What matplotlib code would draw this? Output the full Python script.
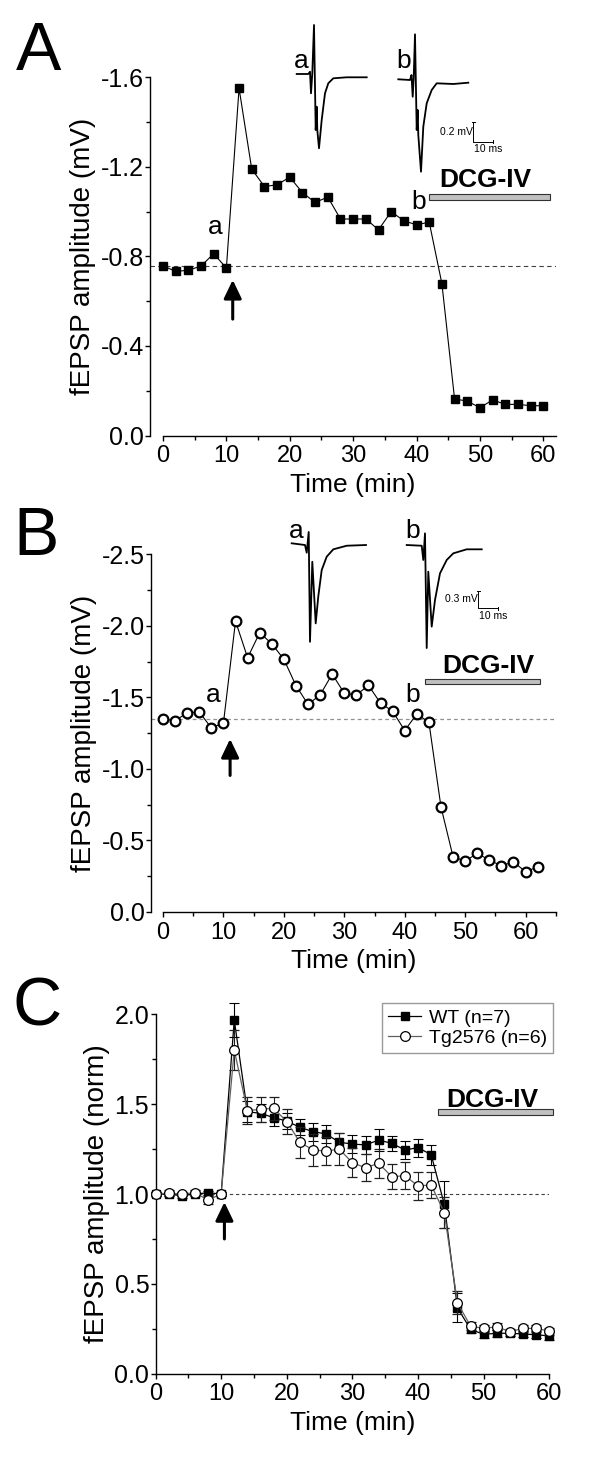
import matplotlib
matplotlib.use("Agg")
import matplotlib.pyplot as plt
from matplotlib.ticker import MultipleLocator, FormatStrFormatter
from matplotlib.patches import Rectangle
from matplotlib.lines import Line2D

plt.rcParams['font.family'] = ['Liberation Sans', 'DejaVu Sans']

# ---------------- data ----------------
tA = list(range(0, 61, 2))
ampA = [-0.758, -0.733, -0.738, -0.757, -0.812, -0.748, -1.551, -1.19, -1.112, -1.12,
        -1.154, -1.085, -1.041, -1.065, -0.967, -0.967, -0.967, -0.919, -1.0, -0.959,
        -0.941, -0.953, -0.678, -0.163, -0.154, -0.124, -0.159, -0.139, -0.139, -0.133, -0.133]
baseA = -0.755

tB = list(range(0, 63, 2))
ampB = [-1.348, -1.339, -1.392, -1.399, -1.287, -1.322, -2.034, -1.778, -1.953, -1.876,
        -1.767, -1.583, -1.452, -1.518, -1.664, -1.529, -1.518, -1.585, -1.46, -1.404,
        -1.269, -1.385, -1.327, -0.735, -0.386, -0.356, -0.41, -0.363, -0.323, -0.351,
        -0.281, -0.316]
baseB = -1.348

tC = list(range(0, 61, 2))
wt = [1.0, 1.0, 0.99, 1.0, 1.007, 1.0, 1.968, 1.458, 1.449, 1.425, 1.406, 1.371, 1.347,
      1.334, 1.288, 1.278, 1.273, 1.30, 1.282, 1.245, 1.258, 1.219, 0.943, 0.367, 0.247,
      0.219, 0.225, 0.225, 0.221, 0.217, 0.21]
wt_err = [0.01, 0.01, 0.01, 0.01, 0.01, 0.01, 0.093, 0.06, 0.05, 0.045, 0.045, 0.045, 0.05,
          0.05, 0.05, 0.05, 0.05, 0.06, 0.04, 0.05, 0.05, 0.055, 0.13, 0.08, 0.02, 0.02,
          0.02, 0.015, 0.015, 0.02, 0.02]
tg = [1.0, 1.005, 1.0, 1.007, 0.967, 1.0, 1.801, 1.464, 1.471, 1.477, 1.403, 1.288, 1.245,
      1.239, 1.25, 1.174, 1.146, 1.171, 1.096, 1.102, 1.045, 1.05, 0.897, 0.395, 0.265,
      0.252, 0.261, 0.234, 0.252, 0.252, 0.237]
tg_err = [0.01, 0.015, 0.01, 0.015, 0.02, 0.01, 0.11, 0.075, 0.07, 0.065, 0.07, 0.085, 0.09,
          0.08, 0.09, 0.08, 0.075, 0.08, 0.07, 0.075, 0.077, 0.075, 0.085, 0.065, 0.02, 0.02,
          0.02, 0.015, 0.02, 0.02, 0.02]
legend_labels = ["WT (n=7)", "Tg2576 (n=6)"]

# example traces (ms, mV)
trA_a_ms = [0, 5.8, 6.65, 7.15, 7.8, 8.65, 9.5, 10, 10.3, 11.15, 12.5, 14.15, 15.8, 18.3, 25, 35]
trA_a_mv = [0, 0, 0.023, -0.193, 0.007, 0.49, -0.56, -0.327, -0.56, -0.743, -0.46, -0.193,
            -0.093, -0.043, -0.033, -0.033]
trA_b_ms = [0, 5.85, 6.6, 7.2, 7.7, 8.35, 9.2, 9.7, 10, 11.35, 12.5, 14.2, 16.7, 19.2, 27.5, 35]
trA_b_mv = [0, -0.007, 0.043, -0.174, 0.013, 0.45, -0.507, -0.307, -0.557, -0.924, -0.474,
            -0.24, -0.107, -0.04, -0.047, -0.034]
trB_a_ms = [0, 6.65, 7.5, 8.5, 9.15, 10.3, 12, 13.3, 15, 17.5, 20.8, 27.5, 37.15]
trB_a_mv = [0, -0.029, -0.16, 0.192, -1.67, -0.313, -1.357, -0.9, -0.453, -0.227, -0.102,
            -0.041, -0.029]
trB_b_ms = [0, 7.5, 8.3, 9.15, 10, 10.8, 12.5, 14.15, 16.65, 20, 23.3, 30, 37.5]
trB_b_mv = [0, -0.012, -0.254, 0.198, -1.746, -0.452, -1.384, -0.932, -0.48, -0.254, -0.141,
            -0.073, -0.073]

# ---------------- layout ----------------
W, H = 600, 1466
fig = plt.figure(figsize=(W / 100, H / 100), dpi=100)


def rect(l, r, top, bot):
    return [l / W, 1 - bot / H, (r - l) / W, (bot - top) / H]


XTICKFS = 17
YTICKFS = 18
XLABFS = 19
YLABFS = 20


def style(ax, xmaj, xmin_, ymaj, ymin_):
    for s in ('top', 'right'):
        ax.spines[s].set_visible(False)
    for s in ('left', 'bottom'):
        ax.spines[s].set_linewidth(1.0)
    ax.xaxis.set_major_locator(MultipleLocator(xmaj))
    ax.xaxis.set_minor_locator(MultipleLocator(xmin_))
    ax.yaxis.set_major_locator(MultipleLocator(ymaj))
    ax.yaxis.set_minor_locator(MultipleLocator(ymin_))
    ax.yaxis.set_major_formatter(FormatStrFormatter('%.1f'))
    ax.tick_params(which='major', direction='out', length=3.5, width=1.0)
    ax.tick_params(which='minor', direction='out', length=3.0, width=1.0)
    ax.tick_params(axis='y', which='major', pad=1, labelsize=YTICKFS)
    ax.tick_params(axis='x', which='major', pad=3.5, labelsize=XTICKFS)


def arrow(ax, x, y0, y1):
    ax.annotate('', xy=(x, y1), xytext=(x, y0),
                arrowprops=dict(arrowstyle='-|>,head_length=0.75,head_width=0.36',
                                mutation_scale=15, lw=2.2, color='k',
                                shrinkA=0, shrinkB=0), annotation_clip=False)


def dcg(ax, x0, x1, yc, h, tx, ty):
    ax.add_patch(Rectangle((x0, yc - h / 2), x1 - x0, h, facecolor='#c0c0c0',
                           edgecolor='#303030', lw=0.8, clip_on=False))
    ax.text(tx, ty, 'DCG-IV', fontsize=19, fontweight='bold', ha='center', va='center')


# ---------- Panel A ----------
axA = fig.add_axes(rect(150, 556, 77.3, 435.5))
axA.set_xlim(-2.05, 62)
axA.set_ylim(0, -1.6)
style(axA, 10, 5, 0.4, 0.2)
axA.spines['bottom'].set_bounds(0, 62)
axA.axhline(baseA, color='#404040', lw=0.8, ls=(0, (4, 3)), zorder=1)
axA.plot(tA, ampA, color='k', lw=0.8, marker='s', ms=5.5, mfc='k', mec='k', clip_on=False, zorder=3)
arrow(axA, 11, -0.52, -0.695)
axA.text(8.2, -0.93, 'a', fontsize=19, ha='center', va='center')
axA.text(40.35, -1.045, 'b', fontsize=19, ha='center', va='center')
dcg(axA, 42.0, 61.0, -1.065, 0.027, 50.9, -1.14)
axA.set_xlabel('Time (min)', fontsize=XLABFS, labelpad=4)
axA.set_ylabel('fEPSP amplitude (mV)', fontsize=YLABFS, labelpad=3)

# traces A inset (2 px per ms, 0.01 mV per px)
tiA = fig.add_axes(rect(290, 500, 15, 180))
tiA.set_xlim(0, 105)
tiA.set_ylim(-1.06, 0.59)
tiA.axis('off')
tiA.plot([m + 3.35 for m in trA_a_ms], trA_a_mv, color='k', lw=1.3)
tiA.plot([m + 54.15 for m in trA_b_ms], [v - 0.053 for v in trA_b_mv], color='k', lw=1.3)
tiA.plot([91.65, 91.65, 101.65], [-0.477, -0.677, -0.677], color='k', lw=0.7)
tiA.plot([91.0, 92.3], [-0.477, -0.477], color='k', lw=0.7)
tiA.plot([101.65, 101.65], [-0.66, -0.694], color='k', lw=0.7)
tiA.text(91.3, -0.577, '0.2 mV', fontsize=7.5, ha='right', va='center')
tiA.text(91.8, -0.70, '10 ms', fontsize=7.5, ha='left', va='top')
fig.text(301 / W, 1 - 68 / H, 'a', fontsize=19, ha='center', va='baseline')
fig.text(404 / W, 1 - 68 / H, 'b', fontsize=19, ha='center', va='baseline')

# ---------- Panel B ----------
axB = fig.add_axes(rect(151, 557, 554.5, 912))
axB.set_xlim(-1.99, 65.2)
axB.set_ylim(0, -2.5)
style(axB, 10, 5, 0.5, 0.25)
axB.spines['bottom'].set_bounds(0, 65)
axB.axhline(baseB, color='#909090', lw=0.9, ls=(0, (3, 2.5)), zorder=1)
axB.plot(tB, ampB, color='k', lw=0.8, marker='o', ms=7, mfc='white', mec='k', mew=1.6,
         clip_on=False, zorder=3)
arrow(axB, 11.1, -0.955, -1.21)
axB.text(8.33, -1.515, 'a', fontsize=19, ha='center', va='center')
axB.text(41.3, -1.515, 'b', fontsize=19, ha='center', va='center')
dcg(axB, 43.3, 62.4, -1.612, 0.04, 53.8, -1.72)
axB.set_xlabel('Time (min)', fontsize=XLABFS, labelpad=4)
axB.set_ylabel('fEPSP amplitude (mV)', fontsize=YLABFS, labelpad=3)

# traces B inset (2 px per ms, 0.01695 mV per px)
tiB = fig.add_axes(rect(285, 505, 520, 660))
tiB.set_xlim(0, 110)
tiB.set_ylim(-1.978, 0.395)
tiB.axis('off')
tiB.plot([m + 3.35 for m in trB_a_ms], trB_a_mv, color='k', lw=1.3)
tiB.plot([m + 60.85 for m in trB_b_ms], [v - 0.029 for v in trB_b_mv], color='k', lw=1.3)
tiB.plot([96.65, 96.65, 106.65], [-0.80, -1.102, -1.102], color='k', lw=0.7)
tiB.plot([96.0, 97.3], [-0.80, -0.80], color='k', lw=0.7)
tiB.plot([106.65, 106.65], [-1.075, -1.13], color='k', lw=0.7)
tiB.text(96.3, -0.95, '0.3 mV', fontsize=7.5, ha='right', va='center')
tiB.text(96.8, -1.14, '10 ms', fontsize=7.5, ha='left', va='top')
fig.text(296 / W, 1 - 538 / H, 'a', fontsize=19, ha='center', va='baseline')
fig.text(413 / W, 1 - 538 / H, 'b', fontsize=19, ha='center', va='baseline')

# ---------- Panel C ----------
axC = fig.add_axes(rect(155.5, 549.3, 1014.3, 1373.7))
axC.set_xlim(0, 60)
axC.set_ylim(0, 2.0)
style(axC, 10, 5, 0.5, 0.25)
axC.axhline(1.0, color='#404040', lw=0.8, ls=(0, (3, 2.5)), zorder=1)
axC.errorbar(tC, wt, yerr=wt_err, color='k', lw=0.9, elinewidth=0.8, capsize=3.5,
             capthick=0.8, marker='s', ms=6, mfc='k', mec='k', clip_on=False, zorder=3)
axC.errorbar(tC, tg, yerr=tg_err, color='#606060', lw=0.9, elinewidth=0.8, ecolor='#202020',
             capsize=3.5, capthick=0.8, marker='o', ms=7, mfc='white', mec='k', mew=0.9,
             clip_on=False, zorder=4)
arrow(axC, 10.5, 0.75, 0.955)
dcg(axC, 43.0, 60.6, 1.456, 0.03, 51.3, 1.525)
axC.set_xlabel('Time (min)', fontsize=XLABFS, labelpad=4)
axC.set_ylabel('fEPSP amplitude (norm)', fontsize=YLABFS, labelpad=3)
hW = Line2D([], [], color='k', lw=0.9, marker='s', ms=6, mfc='k', mec='k')
hT = Line2D([], [], color='#606060', lw=0.9, marker='o', ms=7, mfc='white', mec='k', mew=0.9)
leg = axC.legend([hW, hT], legend_labels, loc='upper right', bbox_to_anchor=(1.009, 1.031),
                 borderaxespad=0, fontsize=14, frameon=True, fancybox=False,
                 handlelength=1.7, handletextpad=0.4, labelspacing=0.15, borderpad=0.3)
leg.get_frame().set_edgecolor('#808080')
leg.get_frame().set_linewidth(1.0)

# panel letters
fig.text(16 / W, 1 - 70 / H, 'A', fontsize=49, ha='left', va='baseline')
fig.text(13 / W, 1 - 555 / H, 'B', fontsize=49, ha='left', va='baseline')
fig.text(13 / W, 1 - 1026 / H, 'C', fontsize=49, ha='left', va='baseline')

fig.savefig('out.png', dpi=100)
